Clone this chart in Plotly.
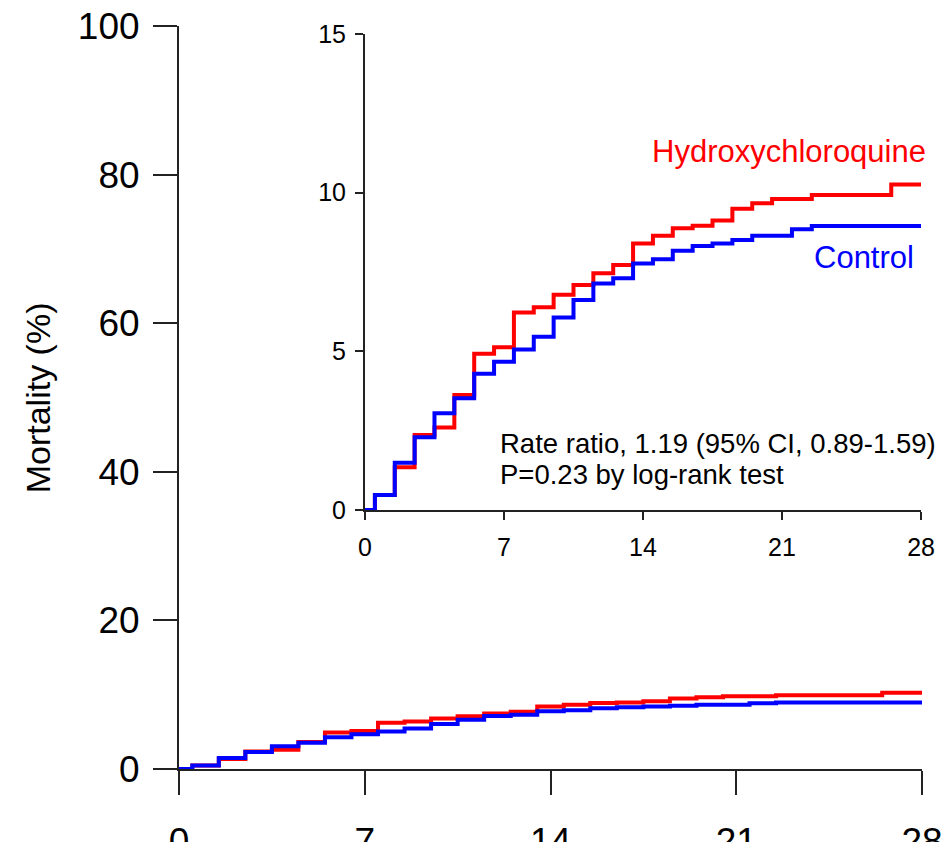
import plotly.graph_objects as go

# Kaplan-Meier style cumulative mortality (%)
days_hcq = [0, 0.5, 1.5, 2.5, 3.5, 4.5, 5.5, 6.5, 7.5, 8.5, 9.5, 10.5, 11.5, 12.5,
            13.5, 14.5, 15.5, 16.5, 17.5, 18.5, 19.5, 20.5, 22.5, 26.5, 28]
mort_hcq = [0, 0.47, 1.35, 2.36, 2.6, 3.62, 4.92, 5.13, 6.22, 6.39, 6.78, 7.09, 7.46, 7.72,
            8.4, 8.64, 8.88, 8.96, 9.12, 9.49, 9.67, 9.8, 9.93, 10.26, 10.26]

days_ctl = [0, 0.5, 1.5, 2.5, 3.5, 4.5, 5.5, 6.5, 7.5, 8.5, 9.5, 10.5, 11.5, 12.5,
            13.5, 14.5, 15.5, 16.5, 17.5, 18.5, 19.5, 21.5, 22.5, 28]
mort_ctl = [0, 0.47, 1.49, 2.29, 3.05, 3.52, 4.29, 4.67, 5.06, 5.46, 6.07, 6.62, 7.14, 7.3,
            7.77, 7.9, 8.17, 8.32, 8.4, 8.51, 8.64, 8.85, 8.95, 8.95]

x_ticks = [0, 7, 14, 21, 28]
main_y_ticks = [0, 20, 40, 60, 80, 100]
inset_y_ticks = [0, 5, 10, 15]

RED = "#ff0000"
BLUE = "#0000ff"
AX = "#222222"
FONT = "Liberation Sans, Arial, Helvetica, sans-serif"

fig = go.Figure()

for xa, ya in (("x", "y"), ("x2", "y2")):
    fig.add_trace(go.Scatter(x=days_hcq, y=mort_hcq, mode="lines", line_shape="hv",
                             line=dict(color=RED, width=4), xaxis=xa, yaxis=ya,
                             showlegend=False, hoverinfo="skip"))
    fig.add_trace(go.Scatter(x=days_ctl, y=mort_ctl, mode="lines", line_shape="hv",
                             line=dict(color=BLUE, width=4), xaxis=xa, yaxis=ya,
                             showlegend=False, hoverinfo="skip"))

common = dict(showgrid=False, zeroline=False, showline=True, linecolor=AX, linewidth=2,
              ticks="outside", tickcolor=AX, tickwidth=2, automargin=False,
              fixedrange=True)

fig.update_layout(
    template="none",
    width=950, height=842,
    margin=dict(l=179, r=28, t=26, b=73),
    paper_bgcolor="white", plot_bgcolor="white",
    font=dict(family=FONT, color="black"),
    xaxis=dict(domain=[0, 1], range=[0, 28], tickvals=x_ticks, ticklen=24,
               tickfont=dict(size=37), ticklabelstandoff=15, **common),
    yaxis=dict(domain=[0, 1], range=[0, 100], tickvals=main_y_ticks, ticklen=24,
               tickfont=dict(size=37), ticklabelstandoff=6, **common),
    xaxis2=dict(domain=[0.2503, 0.9987], range=[0, 28], tickvals=x_ticks, ticklen=8,
                tickfont=dict(size=25), anchor="y2", ticklabelstandoff=6, **common),
    yaxis2=dict(domain=[0.3486, 0.9892], range=[0, 15], tickvals=inset_y_ticks, ticklen=8,
                tickfont=dict(size=25), anchor="x2", ticklabelstandoff=4, **common),
)

fig.add_annotation(text="Mortality (%)", xref="paper", yref="paper", x=-0.19, y=0.5,
                   textangle=-90, showarrow=False, font=dict(size=34),
                   xanchor="center", yanchor="middle")
fig.add_annotation(text="Hydroxychloroquine", xref="x2", yref="y2", x=28, y=11.3,
                   xshift=7, showarrow=False, font=dict(size=31, color=RED),
                   xanchor="right", yanchor="middle")
fig.add_annotation(text="Control", xref="x2", yref="y2", x=27.75, y=7.95,
                   showarrow=False, font=dict(size=31, color=BLUE),
                   xanchor="right", yanchor="middle")
fig.add_annotation(text="Rate ratio, 1.19 (95% CI, 0.89-1.59)", xref="x2", yref="y2",
                   x=6.7, y=2.1, showarrow=False, font=dict(size=27.5),
                   xanchor="left", yanchor="middle")
fig.add_annotation(text="P=0.23 by log-rank test", xref="x2", yref="y2",
                   x=6.7, y=1.13, showarrow=False, font=dict(size=27.5),
                   xanchor="left", yanchor="middle")

fig.write_html("out.html")
